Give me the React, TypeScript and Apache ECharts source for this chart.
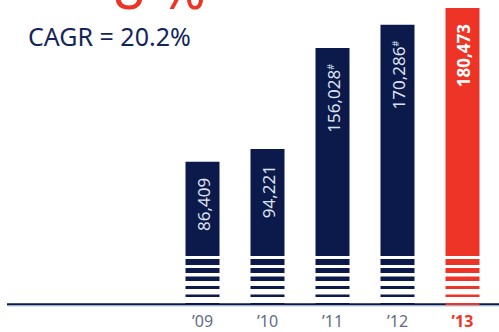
import React, { useEffect, useRef } from "react";
import * as echarts from "echarts";

const years = ["’09", "’10", "’11", "’12", "’13"];
const values = [86409, 94221, 156028, 170286, 180473];
const footnoted = [false, false, true, true, false];
const headline = "8 %";
const cagrText = "CAGR = 20.2%";

const NAVY = "#0b1a4b";
const RED = "#ee3426";
const FONT = "'Noto Sans', 'Open Sans', sans-serif";

export default function App() {
  const ref = useRef<HTMLDivElement>(null);
  useEffect(() => {
    document.body.style.margin = "0";
    const chart = echarts.init(ref.current!, null, { renderer: "svg" });
    const last = values.length - 1;
    const stripes = [
      [38, 44],
      [30, 35],
      [22, 26.5],
      [14, 17],
      [6, 8.5],
    ];
    chart.setOption({
      animation: false,
      grid: { left: 170, right: 4, top: 0, bottom: 29 },
      xAxis: {
        type: "category",
        data: years,
        axisLine: { show: false },
        axisTick: { show: false },
        axisLabel: {
          margin: 10,
          formatter: (v: string) => (v === years[last] ? `{r|${v}}` : `{n|${v}}`),
          rich: {
            n: { fontFamily: FONT, fontSize: 16, color: "#5f6d86" },
            r: { fontFamily: FONT, fontSize: 16, color: RED, fontWeight: "bold" },
          },
        },
      },
      yAxis: { type: "value", min: 0, max: 185400, show: false, splitLine: { show: false } },
      graphic: [
        {
          type: "line",
          z: 1,
          shape: { x1: 7, y1: 304.3, x2: 499, y2: 304.3 },
          style: { stroke: NAVY, lineWidth: 2 },
        },
        {
          type: "line",
          z: 1,
          shape: { x1: 7, y1: 305.8, x2: 499, y2: 305.8 },
          style: { stroke: "#95a3c0", lineWidth: 1 },
        },
        {
          type: "text",
          x: 28,
          y: 36,
          style: {
            text: cagrText,
            fill: "#13255a",
            font: `25px ${FONT}`,
            textAlign: "left",
            textVerticalAlign: "middle",
          },
        },
        {
          type: "text",
          x: 113,
          y: -13,
          style: {
            text: headline,
            fill: RED,
            font: `56px ${FONT}`,
            lineHeight: 50,
            textAlign: "left",
            textVerticalAlign: "middle",
          },
        },
      ],
      series: [
        {
          type: "custom",
          z: 5,
          data: values.map((v, i) => [i, v]),
          renderItem: (params: any, api: any) => {
            const i = params.dataIndex;
            const v = api.value(1);
            const [cx, top] = api.coord([i, v]);
            const base = api.coord([i, 0])[1];
            const w = 34;
            const x0 = cx - w / 2;
            const color = i === last ? RED : NAVY;
            const children: any[] = [
              {
                type: "rect",
                shape: { x: x0, y: top, width: w, height: base - 47 - top },
                style: { fill: color },
              },
            ];
            stripes.forEach(([a, b]) => {
              children.push({
                type: "rect",
                shape: { x: x0, y: base - b, width: w, height: b - a },
                style: { fill: color },
              });
            });
            children.push({
              type: "rect",
              shape: { x: x0, y: base, width: w, height: 2 },
              style: { fill: color },
            });
            const label = values[i].toLocaleString("en-US");
            const bold = i === last;
            children.push({
              type: "text",
              x: cx + 1,
              y: top + 16,
              rotation: Math.PI / 2,
              style: {
                text: footnoted[i] ? `{n|${label}}{s|#}` : `{n|${label}}`,
                fill: bold ? "#ffffff" : "#dde2ee",
                textAlign: "right",
                textVerticalAlign: "middle",
                align: "right",
                verticalAlign: "middle",
                rich: {
                  n: {
                    fontFamily: FONT,
                    fontSize: 17,
                    fontWeight: bold ? "bold" : "normal",
                    fill: bold ? "#ffffff" : "#dde2ee",
                  },
                  s: {
                    fontFamily: FONT,
                    fontSize: 9,
                    fill: "#dde2ee",
                    padding: [0, 0, 7, 0],
                  },
                },
              },
            });
            return { type: "group", children };
          },
        },
      ],
    });
    return () => chart.dispose();
  }, []);
  return <div ref={ref} style={{ width: 499, height: 332 }} />;
}
